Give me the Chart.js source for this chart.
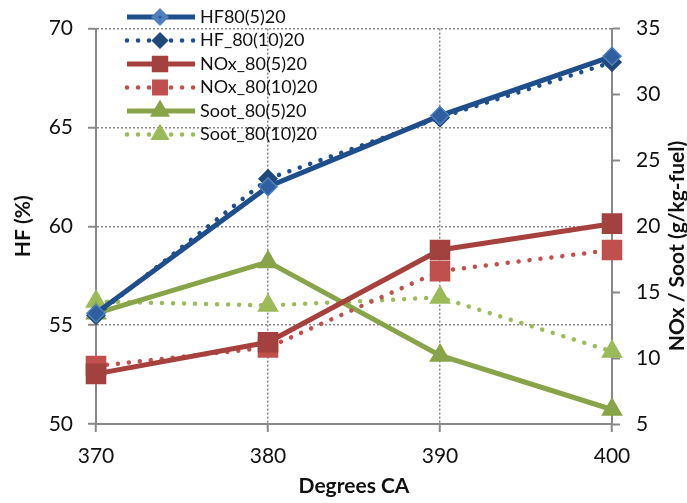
<!DOCTYPE html>
<html lang="en">
<head>
  <meta charset="UTF-8">
  <title>HF, NOx and Soot vs Degrees CA</title>
  <script src="https://cdn.jsdelivr.net/npm/chart.js"></script>
  <style>
    html, body { margin: 0; padding: 0; background: #fff; }
    #wrap { width: 687px; height: 503px; position: relative; }
  </style>
</head>
<body>
<div id="wrap"><canvas id="chart"></canvas></div>
<script>
// data
const degreesCA = ['370', '380', '390', '400'];
const hf_5_20 = [55.6, 62.0, 65.6, 68.6];
const hf_10_20 = [55.5, 62.4, 65.5, 68.3];
const nox_5_20 = [8.8, 11.2, 18.2, 20.2];
const nox_10_20 = [9.4, 10.8, 16.6, 18.2];
const soot_5_20 = [13.4, 17.3, 10.2, 6.1];
const soot_10_20 = [14.3, 14.0, 14.6, 10.5];
// axis ranges: min, max, step
const hfAxis = [50, 70, 5];
const emisAxis = [5, 35, 5];

Chart.defaults.font.family = 'Lato, "Open Sans", sans-serif';
Chart.defaults.color = '#111';

const gray = '#888888';
const dots = [0.01, 11];

function serie(label, data, axis, color, dashed, style, radius, fill, edge) {
  return {
    label: label,
    data: data,
    yAxisID: axis,
    borderColor: color,
    borderWidth: dashed ? 4.5 : 5,
    borderDash: dashed ? dots : [],
    borderCapStyle: dashed ? 'round' : 'butt',
    tension: 0,
    pointStyle: style,
    pointRadius: radius,
    pointHoverRadius: radius,
    pointBackgroundColor: fill,
    pointBorderColor: edge,
    pointBorderWidth: 1.5
  };
}

// legend with line + marker, drawn inside the plot like the original
const lineLegend = {
  id: 'lineLegend',
  afterDatasetsDraw(chart) {
    const ctx = chart.ctx;
    chart.data.datasets.forEach((ds, i) => {
      const y = 17 + i * 23.5;
      ctx.save();
      ctx.strokeStyle = ds.borderColor;
      ctx.lineWidth = ds.borderWidth;
      ctx.lineCap = ds.borderCapStyle;
      ctx.setLineDash(ds.borderDash);
      ctx.beginPath();
      ctx.moveTo(127, y);
      ctx.lineTo(195, y);
      ctx.stroke();
      ctx.setLineDash([]);
      ctx.fillStyle = ds.pointBackgroundColor;
      ctx.strokeStyle = ds.pointBorderColor;
      Chart.helpers.drawPoint(ctx, {
        pointStyle: ds.pointStyle,
        radius: ds.pointRadius * 0.6,
        borderWidth: 1,
        rotation: 0
      }, 160, y);
      ctx.fillStyle = '#111';
      ctx.font = '18px Lato';
      ctx.textAlign = 'left';
      ctx.textBaseline = 'middle';
      ctx.fillText(ds.label, 200, y);
      ctx.restore();
    });
  }
};

// right axis title reads bottom-to-top in the original
const rightTitle = {
  id: 'rightTitle',
  afterDraw(chart) {
    const ctx = chart.ctx;
    ctx.save();
    ctx.translate(677, 246);
    ctx.rotate(-Math.PI / 2);
    ctx.font = 'bold 21px Lato';
    ctx.fillStyle = '#111';
    ctx.textAlign = 'center';
    ctx.textBaseline = 'middle';
    ctx.fillText('NOx / Soot (g/kg-fuel)', 0, 0);
    ctx.restore();
  }
};

new Chart(document.getElementById('chart'), {
  type: 'line',
  data: {
    labels: degreesCA,
    datasets: [
      serie('HF80(5)20', hf_5_20, 'y', '#1F4E8C', false, 'rectRot', 9, '#2E5FA0', '#4F81BD'),
      serie('HF_80(10)20', hf_10_20, 'y', '#1F4E8C', true, 'rectRot', 9, '#1F497D', '#1F497D'),
      serie('NOx_80(5)20', nox_5_20, 'y2', '#A7413E', false, 'rect', 13.5, '#A3413E', '#A3413E'),
      serie('NOx_80(10)20', nox_10_20, 'y2', '#C0504D', true, 'rect', 13.5, '#C0504D', '#C0504D'),
      serie('Soot_80(5)20', soot_5_20, 'y2', '#88A448', false, 'triangle', 11, '#88A448', '#88A448'),
      serie('Soot_80(10)20', soot_10_20, 'y2', '#9BBB59', true, 'triangle', 11, '#9BBB59', '#9BBB59')
    ]
  },
  options: {
    responsive: true,
    maintainAspectRatio: false,
    animation: false,
    layout: { padding: { top: 23, left: 0, right: 0, bottom: 0 } },
    plugins: {
      legend: { display: false },
      tooltip: { enabled: false }
    },
    scales: {
      x: {
        type: 'category',
        offset: false,
        afterFit(s) { s.height = 79; },
        grid: { color: gray, lineWidth: 1.5, tickLength: 8, tickColor: gray, tickWidth: 2 },
        border: { color: gray, width: 2, dash: [2, 2] },
        ticks: { font: { size: 21 }, padding: 12, maxRotation: 0 },
        title: { display: true, text: 'Degrees CA', font: { size: 21, weight: 'bold' }, padding: { top: 0, bottom: 4 } }
      },
      y: {
        position: 'left',
        min: hfAxis[0], max: hfAxis[1],
        afterFit(s) { s.width = 96; },
        grid: { color: gray, lineWidth: 1.5, tickLength: 8, tickColor: gray, tickWidth: 2 },
        border: { color: gray, width: 2, dash: [2, 2] },
        ticks: { stepSize: hfAxis[2], font: { size: 21 }, padding: 15 },
        title: { display: true, text: 'HF (%)', font: { size: 21, weight: 'bold' }, padding: { top: 11, bottom: 0 } }
      },
      y2: {
        position: 'right',
        min: emisAxis[0], max: emisAxis[1],
        afterFit(s) { s.width = 75; },
        grid: { drawOnChartArea: false, tickLength: 8, tickColor: gray, tickWidth: 2 },
        border: { color: gray, width: 2 },
        ticks: { stepSize: emisAxis[2], font: { size: 21 }, padding: 16 }
      }
    }
  },
  plugins: [lineLegend, rightTitle]
});
</script>
</body>
</html>
